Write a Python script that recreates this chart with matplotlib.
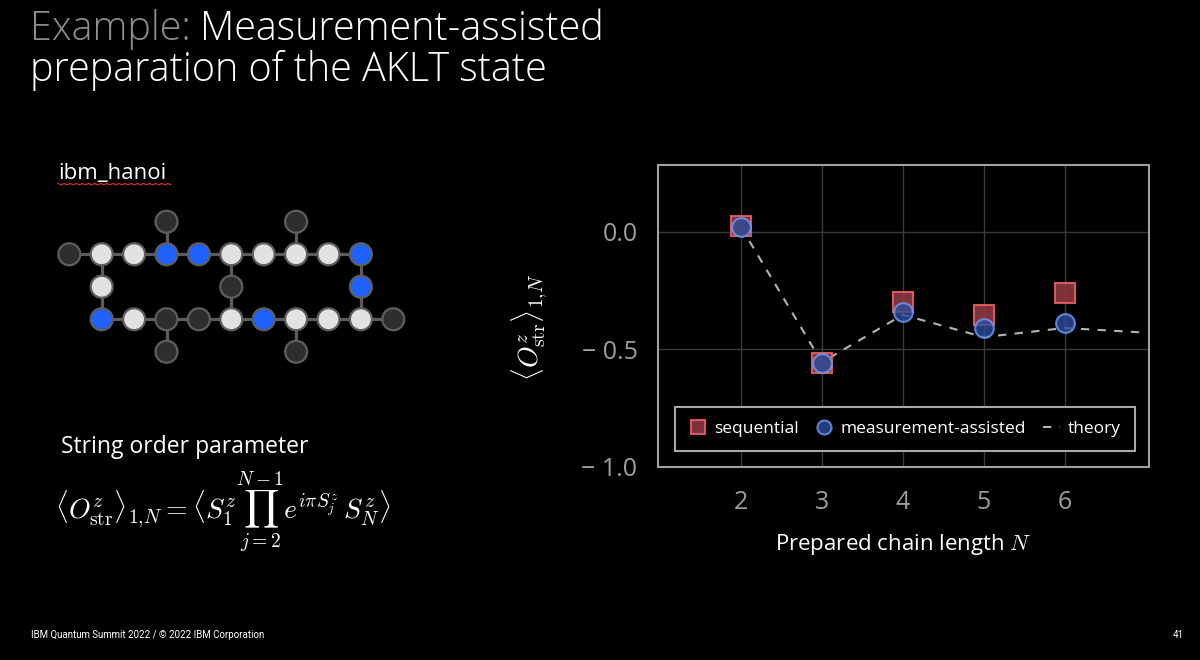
import matplotlib

matplotlib.use("Agg")
import matplotlib.pyplot as plt
import numpy as np
from matplotlib.lines import Line2D

# measured string order vs prepared chain length
chain_length = [2, 3, 4, 5, 6]
sequential = [0.022, -0.559, -0.300, -0.357, -0.262]
measurement_assisted = [0.020, -0.559, -0.344, -0.410, -0.388]
theory_length = [2, 3, 4, 5, 6, 7]
theory = [0.020, -0.556, -0.354, -0.449, -0.410, -0.430]

y_ticks = [0.0, -0.5, -1.0]
y_tick_labels = ["0.0", "\u2212 0.5", "\u2212 1.0"]

# ibm_hanoi qubit map, one string per row: d = idle, l = used, b = measured
hanoi_rows = [
    "...d...d...",
    "dllbbllllb.",
    ".l...d...b.",
    ".blddlbllld",
    "...d...d...",
]
state_colors = {"d": "#2e2e2e", "l": "#e2e2e2", "b": "#1f62ff"}

plt.rcParams["font.family"] = ["Open Sans", "DejaVu Sans"]
plt.rcParams["mathtext.fontset"] = "cm"

W, H = 1200, 660
fig = plt.figure(figsize=(W / 100, H / 100), dpi=100, facecolor="black")


def fx(px):
    return px / W


def fy(py):
    return 1 - py / H


# title
renderer = fig.canvas.get_renderer()
t1 = fig.text(fx(30), fy(40), "Example:", color="#8d8d8d", fontsize=28.5, fontweight="light", va="baseline")
bb = t1.get_window_extent(renderer)
fig.text(bb.x1 / W + fx(9), fy(40), "Measurement-assisted", color="white", fontsize=28.5, fontweight="light", va="baseline")
fig.text(fx(30), fy(81), "preparation of the AKLT state", color="white", fontsize=28.5, fontweight="light", va="baseline")

# device label with spell-check squiggle
fig.text(fx(58), fy(179), "ibm_hanoi", color="white", fontsize=16, va="baseline")
sx = np.linspace(58, 171, 38)
sy = 183.5 + 1.3 * (np.arange(len(sx)) % 2)
fig.add_artist(Line2D(fx(sx), fy(sy), color="#d03030", lw=0.9))

# qubit map
gax = fig.add_axes([fx(53.1), fy(368), fx(356.4), 162.5 / H])
gax.set_xlim(-0.5, 10.5)
gax.set_ylim(4.5, -0.5)
gax.axis("off")
nodes = [(c, r, s) for r, row in enumerate(hanoi_rows) for c, s in enumerate(row) if s != "."]
for i, (c1, r1, _) in enumerate(nodes):
    for c2, r2, _ in nodes[i + 1:]:
        if abs(c1 - c2) + abs(r1 - r2) == 1:
            gax.plot([c1, c2], [r1, r2], color="#5c5c5c", lw=2.3, zorder=1, solid_capstyle="butt")
gax.scatter([n[0] for n in nodes], [n[1] for n in nodes], s=250,
            c=[state_colors[n[2]] for n in nodes], edgecolors="#5e5e5e", linewidths=1.6, zorder=2)

# string order formula
fig.text(fx(61), fy(453), "String order parameter", color="white", fontsize=16.5, va="baseline")
fig.text(fx(55), fy(519),
         r"$\langle O^z_{\mathrm{str}}\rangle_{1{,}N} = \langle S^z_1 \prod_{j=2}^{N-1} e^{i\pi S^z_j}\, S^z_N\rangle$",
         color="white", fontsize=20, va="baseline")

# footer
fig.text(fx(31), fy(635), "IBM Quantum Summit 2022 / \u00a9 2022 IBM Corporation", color="white",
         fontsize=7, va="center", family="Roboto")
fig.text(fx(1178), fy(635), "41", color="white", fontsize=7, va="center", ha="center", family="Roboto")

# chart
ax = fig.add_axes([fx(658.3), fy(466.7), fx(1149 - 658.3), 301.7 / H])
ax.set_facecolor("black")
ax.plot(theory_length, theory, ls=(0, (4, 4)), color="#b4b4b4", lw=1.5, zorder=2, label="theory")
ax.plot(chain_length, sequential, "s", ms=14, mfc="#8a3840", mec="#ea5f69", mew=1.5, alpha=0.9,
        zorder=3, label="sequential")
ax.plot(chain_length, measurement_assisted, "o", ms=13.5, mfc="#2c4d9c", mec="#6f9df7", mew=1.5,
        alpha=0.8, zorder=4, label="measurement-assisted")

ax.set_xlim(0.98, 7.04)
ax.set_ylim(-1.0, 0.283)
ax.set_xticks(chain_length)
ax.set_yticks(y_ticks, y_tick_labels)
ax.tick_params(length=0, colors="#9e9e9e")
ax.tick_params(axis="x", labelsize=18, pad=17)
ax.tick_params(axis="y", labelsize=18, pad=15)
ax.grid(color="#3a3a3a", lw=1)
ax.set_axisbelow(True)
for spine in ax.spines.values():
    spine.set_color("#a0a0a0")
    spine.set_linewidth(1.5)

ax.set_xlabel(r"Prepared chain length $N$", color="white", fontsize=16)
ax.xaxis.set_label_coords(0.5, -0.215)
ax.set_ylabel(r"$\langle O^z_{\mathrm{str}}\rangle_{1{,}N}$", color="white", fontsize=20)
ax.yaxis.set_label_coords(-0.221, 0.463)

handles, labels = ax.get_legend_handles_labels()
order = [1, 2, 0]
leg = ax.legend([handles[i] for i in order], [labels[i] for i in order], ncol=3, loc="lower center",
                bbox_to_anchor=(0.503, 0.053), borderaxespad=0, fontsize=12.5, frameon=True,
                fancybox=False, facecolor="black", edgecolor="#a8a8a8", labelcolor="white",
                handlelength=1.0, columnspacing=0.95, handletextpad=0.45, borderpad=0.8,
                markerscale=0.75)
leg.get_frame().set_linewidth(1.5)
leg.get_frame().set_alpha(1)

fig.savefig("out.png", dpi=100, facecolor="black")
